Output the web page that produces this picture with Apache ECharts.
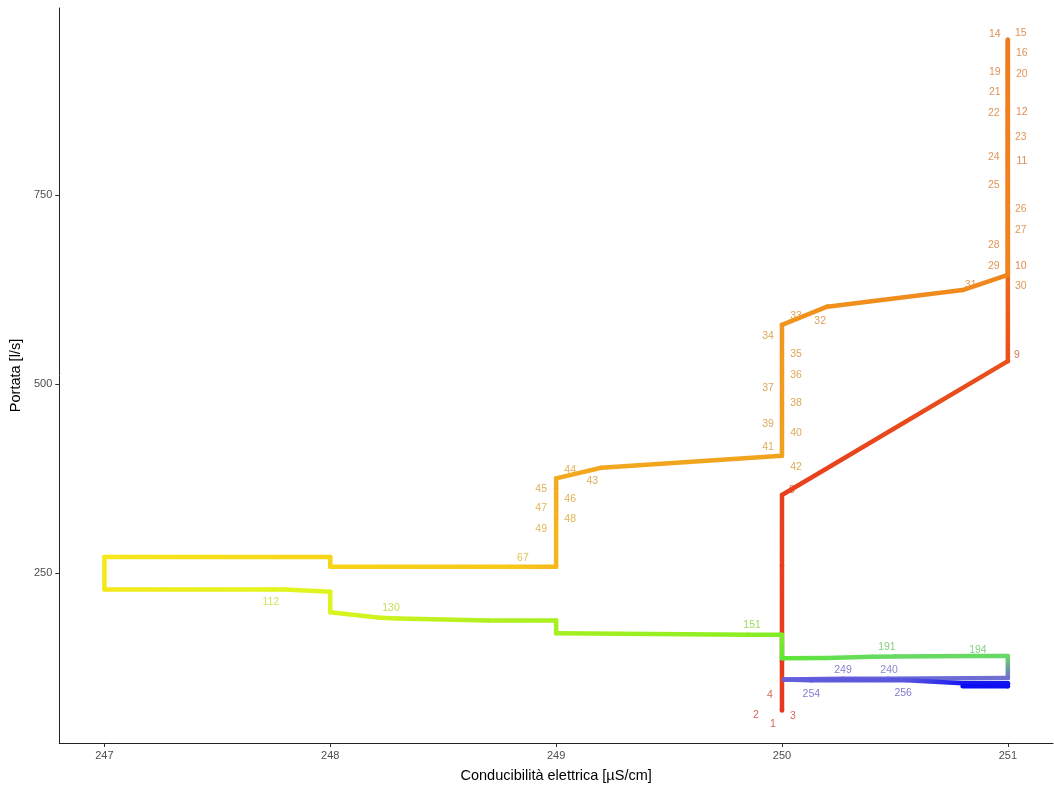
<!DOCTYPE html>
<html><head><meta charset="utf-8">
<script src="https://cdn.jsdelivr.net/npm/echarts@6/dist/echarts.min.js"></script>
<style>html,body{margin:0;padding:0;background:#fff}#c{width:1054px;height:794px}</style>
</head><body><div id="c"></div>
<script>
// time index of each observation
const ids = [1,2,3,4,5,6,7,8,9,10,11,12,13,14,15,16,17,18,19,20,21,22,23,24,25,26,27,28,29,30,
  31,32,33,34,35,36,37,38,39,40,41,42,43,44,45,46,47,48,49,50,67,75,76,90,91,110,112,113,115,116,
  125,130,140,143,144,151,153,158,170,185,191,194,197,205,240,249,252,254,256,257,258,259,260];
// electrical conductivity [µS/cm]
const conducibilita = [250,250,250,250,250,250,250,250,251,251,251,251,251,251,251,251,251,251,251,251,251,251,251,251,251,251,251,251,251,251,
  250.8,250.2,250,250,250,250,250,250,250,250,250,250,249.2,249,249,249,249,249,249,249,248.8,248,248,247,247,247.72,247.75,247.8,248,248,
  248.22,248.3,248.7,249,249,249.85,250,250,250.2,250.4,250.5,250.85,251,251,250.47,250.27,250.01,250.13,250.55,250.8,251,251,250.8];
// discharge [l/s]
const portata = [68,69,70,85,133,181,260,353,530,655,795,860,920,955,955,935,925,918,910,905,885,860,830,800,765,735,705,685,660,644,
  624,602,578,560,540,515,495,475,450,435,415,405,389,375,362,350,337,322,308,258,258,258,271,271,228,228,228,228,225,198,
  190.5,189.5,187,187,170,168,168,137,137.5,139,139.5,140,140,111,110,110,109,108,108,104,104,100,100];
// points that carry a text label
const labelIds = [1,2,3,4,8,9,10,11,12,14,15,16,19,20,21,22,23,24,25,26,27,28,29,30,31,32,33,34,35,36,37,38,39,40,41,42,
  43,44,45,46,47,48,49,67,112,130,151,191,194,240,249,254,256];
const xTicks = [247,248,249,250,251];
const yTicks = [250,500,750];

// ---- styling / layout (not data) ----
const colorStops = [
  [1,'#e5321e'],[8,'#e8401c'],[9,'#ea501c'],[10,'#ee6a1c'],[14,'#f07a1c'],[30,'#f0841c'],[33,'#f0961e'],
  [41,'#f0a01e'],[44,'#f2aa1e'],[50,'#f5b81c'],[67,'#f7c81a'],[76,'#f8d418'],[90,'#f4e81a'],[100,'#eef21c'],
  [112,'#e2f41e'],[130,'#c8f21e'],[143,'#a8f020'],[151,'#8cee22'],[158,'#5ee636'],[170,'#62e04e'],
  [197,'#68d868'],[205,'#7070d0'],[240,'#6a66dc'],[252,'#6660dc'],[256,'#5a56dc'],[257,'#1818f0'],[260,'#0a0af5']];
const labelOffsets = {
 1:[-9,14],2:[-26,5],3:[11,7],4:[-12,-3],8:[10,-5],9:[9,-6],10:[13,-1],11:[14,0],12:[14,1],
 14:[-13,-6],15:[13,-7],16:[14,-2],19:[-13,-2],20:[14,-3],21:[-13,-1],22:[-14,2],23:[13,3],
 24:[-14,0],25:[-14,2],26:[13,3],27:[13,1],28:[-14,1],29:[-14,3],30:[13,11],31:[8,-5],
 32:[-7,14],33:[14,-9],34:[-14,-2],35:[14,1],36:[14,3],37:[-14,1],38:[14,0],39:[-14,2],
 40:[14,0],41:[-14,-1],42:[14,11],43:[-9,13],44:[14,-8],45:[-15,1],46:[14,2],47:[-15,1],
 48:[14,1],49:[-15,0],67:[12,-9],112:[-3,13],130:[-7,-11],151:[4,-10],191:[-8,-9],
 194:[4,-6],240:[1,-9],249:[0,-9],254:[0,14],256:[-3,13]
};
function hex2rgb(h){return [parseInt(h.substr(1,2),16),parseInt(h.substr(3,2),16),parseInt(h.substr(5,2),16)];}
function colorRGB(id){
  if(id<=colorStops[0][0]) return hex2rgb(colorStops[0][1]);
  for(let k=1;k<colorStops.length;k++){
    if(id<=colorStops[k][0]){
      const a=colorStops[k-1], b=colorStops[k];
      const t=(id-a[0])/(b[0]-a[0]);
      const ca=hex2rgb(a[1]), cb=hex2rgb(b[1]);
      return [0,1,2].map(i=>Math.round(ca[i]+(cb[i]-ca[i])*t));
    }
  }
  return hex2rgb(colorStops[colorStops.length-1][1]);
}
function colorAt(id){const c=colorRGB(id);return 'rgb('+c.join(',')+')';}
function labelColor(id){const c=colorRGB(id).map(v=>Math.round(v*0.8+100*0.2));return 'rgb('+c.join(',')+')';}

const segments=[];
for(let i=0;i<ids.length-1;i++){
  segments.push([conducibilita[i],portata[i],conducibilita[i+1],portata[i+1],ids[i],ids[i+1]]);
}
const labelData = labelIds.map(id=>{
  const i=ids.indexOf(id);
  return {value:[conducibilita[i],portata[i],id],
    label:{offset:labelOffsets[id]||[0,0],color:labelColor(id)}};
});

const chart = echarts.init(document.getElementById('c'),null,{renderer:'canvas'});
const FONT='Liberation Sans, Arial, sans-serif';
const axisCommon = {
  axisLine:{show:true,onZero:false,lineStyle:{color:'#222',width:1}},
  axisTick:{show:true,length:4,lineStyle:{color:'#333'}},
  axisLabel:{color:'#4d4d4d',fontSize:11,fontFamily:FONT},
  splitLine:{show:false},
  nameTextStyle:{color:'#000',fontSize:14.5,fontFamily:FONT}
};
chart.setOption({
  animation:false,
  backgroundColor:'#fff',
  grid:{left:59,right:1,top:8,bottom:51,containLabel:false},
  xAxis:Object.assign({},axisCommon,{type:'value',min:246.8,max:251.2,
    name:'Conducibilità elettrica [µS/cm]',nameLocation:'middle',nameGap:25,
    axisTick:Object.assign({},axisCommon.axisTick,{customValues:xTicks}),
    axisLabel:Object.assign({},axisCommon.axisLabel,{customValues:xTicks,margin:7})}),
  yAxis:Object.assign({},axisCommon,{type:'value',min:25,max:997,
    name:'Portata [l/s]',nameLocation:'middle',nameGap:35,nameRotate:90,
    axisTick:Object.assign({},axisCommon.axisTick,{customValues:yTicks}),
    axisLabel:Object.assign({},axisCommon.axisLabel,{customValues:yTicks,margin:7})}),
  series:[
    {type:'scatter',data:labelData,symbolSize:0,z:1,silent:true,
      label:{show:true,position:'inside',fontSize:10.5,fontFamily:FONT,
        formatter:p=>String(p.value[2])}},
    {type:'custom',z:2,silent:true,data:segments,encode:{x:[0,2],y:[1,3]},
      renderItem:function(params,api){
        const p0=api.coord([api.value(0),api.value(1)]);
        const p1=api.coord([api.value(2),api.value(3)]);
        const c0=colorAt(api.value(4)), c1=colorAt(api.value(5));
        let stroke=c0;
        if(Math.hypot(p1[0]-p0[0],p1[1]-p0[1])>0.5){
          stroke=new echarts.graphic.LinearGradient(p0[0],p0[1],p1[0],p1[1],
            [{offset:0,color:c0},{offset:1,color:c1}],true);
        }
        return {type:'line',shape:{x1:p0[0],y1:p0[1],x2:p1[0],y2:p1[1]},
          style:{stroke:stroke,lineWidth:4.5,lineCap:'round'}};
      }}
  ]
});
</script></body></html>
